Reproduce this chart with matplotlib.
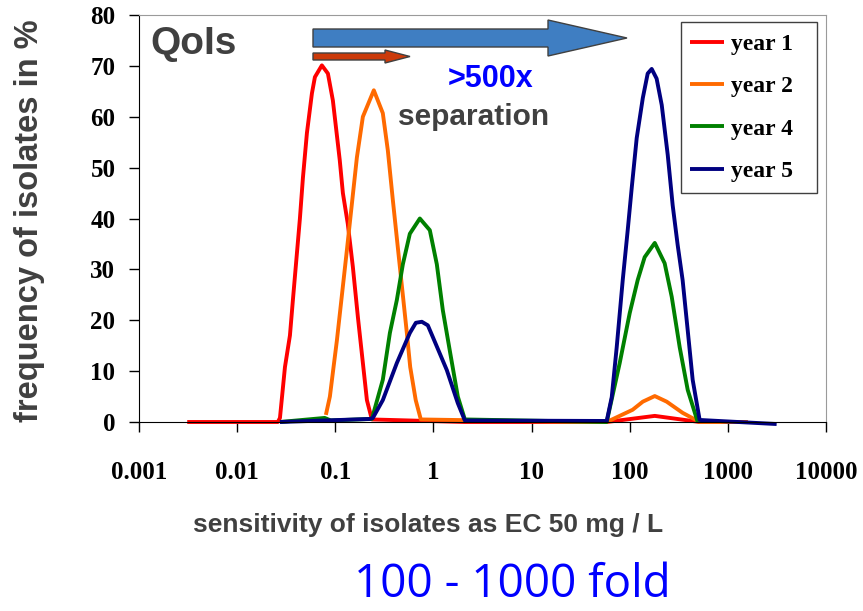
import matplotlib
matplotlib.use("Agg")
import matplotlib.pyplot as plt
from matplotlib.patches import Polygon, Rectangle

# ------- data (x = EC50 mg/L, y = % isolates) -------
year1_x = [0.0031, 0.026, 0.0273, 0.0307, 0.0345, 0.037, 0.0436, 0.0468,
           0.0514, 0.0578, 0.062, 0.073, 0.0841, 0.0945, 0.111, 0.1195,
           0.134, 0.151, 0.170, 0.210, 0.236, 2.09, 33.2, 58.3, 180, 516,
           1590]
year1_y = [0, 0, 0.8, 10.8, 17, 24, 40, 48, 56.8, 64.6, 67.8, 70.1, 68.5,
           63.2, 51.5, 45, 39, 30.5, 20.6, 4.3, 0.5, 0, 0, 0, 1.2, 0, 0]

year2_x = [0.0802, 0.0881, 0.096, 0.1038, 0.1313, 0.166, 0.191, 0.247,
           0.305, 0.343, 0.386, 0.455, 0.536, 0.58, 0.66, 0.744,
           33.2, 58.3, 107, 136, 180, 238, 346, 516, 1590]
year2_y = [1.4, 5, 10.8, 16, 33.8, 52, 60, 65.2, 60.7, 53.4, 43.6, 30.5,
           17.5, 10.8, 4.3, 0.5,
           0, 0, 2.4, 4, 5.1, 4, 1.8, 0, 0]

year4_x = [0.0273, 0.078, 0.09, 0.236, 0.305, 0.360, 0.424, 0.488, 0.575,
           0.727, 0.919, 1.083, 1.246, 1.469, 1.772, 2.09, 58.3, 79.1, 100,
           120.6, 142, 180, 227, 268, 323, 390, 493]
year4_y = [0, 0.8, 0.3, 0.6, 8.3, 17.5, 24, 31, 37, 40, 37.7, 31, 22, 14, 5,
           0.5, 0, 11.6, 21.4, 27.9, 32.4, 35.2, 31.2, 24.6, 14.7, 6.3, 0]

year5_x = [0.0273, 0.225, 0.2415, 0.305, 0.424, 0.575, 0.662, 0.762, 0.877,
           0.986, 1.369, 1.772, 2.09, 58.3, 65.6, 73.7, 84.9, 95.4, 104.8,
           117.8, 136, 152.5, 167.5, 188, 212, 244, 274, 308, 346, 390, 438,
           516, 3140]
year5_y = [0, 0.6, 0.8, 4.3, 11.6, 17.5, 19.5, 19.7, 19, 16.7, 10.2, 3.7,
           0.3, 0.2, 4.9, 14.7, 27.9, 37.7, 46, 55.8, 63.7, 68.5, 69.4, 67.5,
           62.3, 52.5, 42.6, 34.8, 27.9, 18, 8.3, 0.4, -0.4]

series = [("year 1", year1_x, year1_y, "#FF0000"),
          ("year 2", year2_x, year2_y, "#FF6A00"),
          ("year 4", year4_x, year4_y, "#008000"),
          ("year 5", year5_x, year5_y, "#000080")]

x_ticks = [0.001, 0.01, 0.1, 1, 10, 100, 1000, 10000]
x_ticklabels = ["0.001", "0.01", "0.1", "1", "10", "100", "1000", "10000"]
y_ticks = [0, 10, 20, 30, 40, 50, 60, 70, 80]

W, H = 863, 611
GREY = "#404040"


def fx(px):
    return px / W


def fy(py):
    return 1 - py / H


def pfeil(x0, x1, yc, body, head, head_x):
    # block arrow outline in figure pixels -> figure fraction
    pts = [(x0, yc - body), (head_x, yc - body), (head_x, yc - head),
           (x1, yc), (head_x, yc + head), (head_x, yc + body),
           (x0, yc + body)]
    return [(fx(a), fy(b)) for a, b in pts]


fig = plt.figure(figsize=(W / 100, H / 100), dpi=100)
ax = fig.add_axes([fx(139), fy(422), fx(826) - fx(139), fy(15) - fy(422)])

for name, xs, ys, c in series:
    ax.plot(xs, ys, "-", color=c, lw=2.8, label=name, clip_on=False,
            solid_joinstyle="round", solid_capstyle="butt")

ax.set_xscale("log")
ax.set_xlim(0.001, 10000)
ax.set_ylim(0, 80)
ax.set_xticks(x_ticks)
ax.set_xticklabels(x_ticklabels)
ax.minorticks_off()
ax.set_yticks(y_ticks)

ser = {"family": "Liberation Serif", "weight": "bold", "size": 18}
for t in ax.get_xticklabels() + ax.get_yticklabels():
    t.set_fontproperties(matplotlib.font_manager.FontProperties(**ser))
ax.tick_params(axis="x", direction="out", length=7, width=1, pad=21)
ax.tick_params(axis="y", direction="out", length=7, width=1, pad=10)

for s in ("top", "right"):
    ax.spines[s].set_color("#9a9a9a")
for s in ("left", "bottom"):
    ax.spines[s].set_color("black")

# legend without own frame, box drawn separately (wider than the entries)
leg = ax.legend(loc="upper left",
                bbox_to_anchor=(fx(681), fy(24)),
                bbox_transform=fig.transFigure,
                prop={"family": "Liberation Serif", "weight": "bold",
                      "size": 17},
                frameon=False, handlelength=1.4, handletextpad=0.3,
                labelspacing=0.88, borderpad=0.4, borderaxespad=0)
fig.patches.append(Rectangle((fx(681), fy(193)), fx(817) - fx(681),
                             fy(22) - fy(193), transform=fig.transFigure,
                             facecolor="none", edgecolor=GREY, lw=1,
                             zorder=5))

# arrows
fig.patches.append(Polygon(pfeil(313, 627, 38, 9, 18, 548), closed=True,
                           transform=fig.transFigure, facecolor="#3F7EC2",
                           edgecolor=GREY, lw=1))
fig.patches.append(Polygon(pfeil(313, 410, 56.5, 3.5, 6.5, 385), closed=True,
                           transform=fig.transFigure, facecolor="#CC3A0A",
                           edgecolor=GREY, lw=1))

sans = "Liberation Sans"
fig.text(fx(150), fy(54), "QoIs", family=sans, weight="bold", size=28,
         color=GREY, va="baseline", ha="left")
fig.text(fx(448), fy(87), ">500x", family=sans, weight="bold", size=22,
         color="#0000FF", va="baseline", ha="left")
fig.text(fx(398), fy(125), "separation", family=sans, weight="bold",
         size=21.5, color=GREY, va="baseline", ha="left")

fig.text(fx(428), fy(525), "sensitivity of isolates as EC 50 mg / L",
         family=sans, weight="bold", size=19, color=GREY,
         ha="center", va="center")
fig.text(fx(30), fy(221), "frequency of isolates in %", family=sans,
         weight="bold", size=23.5, color=GREY, rotation=90,
         ha="center", va="center")
fig.text(fx(512), fy(585), "100 - 1000 fold", family="Open Sans",
         size=33, color="#0000FF", ha="center", va="center")

fig.savefig("out.png", dpi=100)
